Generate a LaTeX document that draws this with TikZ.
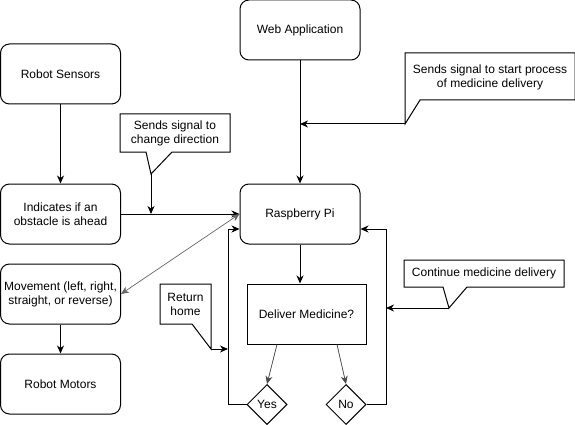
\documentclass[tikz,border=0pt]{standalone}
\usepackage{fontspec}
\setmainfont{Liberation Sans}
\usetikzlibrary{arrows.meta, shapes.geometric}
\tikzset{
	box/.style={draw, rounded corners=9pt, minimum width=120pt, minimum height=60pt, align=center},
	decision/.style={draw, diamond, minimum width=40pt, minimum height=40pt, inner sep=0pt},
	arrow/.style={-{Stealth[length=8pt, width=7pt, inset=2.5pt]}},
	greyarrow/.style={{Stealth[length=8pt, width=7pt, inset=2.5pt]}-{Stealth[length=8pt, width=7pt, inset=2.5pt]}, draw=black!60, line width=.7pt},
	thinarrow/.style={-{Stealth[length=8pt, width=7pt, inset=2.5pt]}, draw=black!70, line width=.7pt, fill=black},
	notebox/.style={draw, line join=miter}
}
\begin{document}
\begin{tikzpicture}[x=1pt, y=-1pt, line width=1pt, every node/.style={font=\fontsize{12}{14}\selectfont, align=center}]
	\useasboundingbox (0,0) rectangle (575,425);
	% left column
	\node[box] (sensors) at (60.5, 74) {Robot Sensors};
	\node[box] (obstacle) at (60.5, 214) {Indicates if an\\obstacle is ahead};
	\node[box] (movement) at (60.5, 294) {Movement (left, right,\\straight, or reverse)};
	\node[box] (motors) at (60.5, 384) {Robot Motors};
	% right column
	\node[box] (webapp) at (300, 30) {Web Application};
	\node[box] (raspi) at (300, 214) {Raspberry Pi};
	\node[draw, minimum width=119pt, minimum height=60pt] (deliver) at (306.5, 314) {Deliver Medicine?};
	\node[decision] (yes) at (267, 404.5) {Yes};
	\node[decision] (no) at (346, 404.5) {No};
	\coordinate (yesloop) at (228, 404.5);
	\coordinate (noloop) at (386, 404.5);
	% callouts
	\draw[notebox] (120,114) -- (230,114) -- (230,152) -- (172,152) -- (151,174) coordinate (dirtip) -- (146,152) -- (120,152) -- cycle;
	\node[] (dirText) at (175, 133.5) {Sends signal to\\change direction};
	\draw[notebox] (405,53) -- (575,53) -- (575,100) -- (420,100) -- (405,124) coordinate (starttip) -- cycle;
	\node[] (startText) at (490, 77.5) {Sends signal to start process\\of medicine delivery};
	\draw[notebox] (160,284) -- (211,284) -- (211,349) coordinate (hometip) -- (192,324) -- (160,324) -- cycle;
	\node[] (homeText) at (185.5, 304.5) {Return\\home};
	\draw[notebox] (404,260) -- (564,260) -- (564,287) -- (467,287) -- (449,308) coordinate (conttip) -- (443,287) -- (404,287) -- cycle;
	\node[] (contText) at (484, 273.5) {Continue medicine delivery};
	% connectors
	\draw[arrow] (sensors) -- (obstacle);
	\draw[arrow] (obstacle) -- (raspi);
	\draw[arrow] (movement) -- (motors);
	\draw[arrow] (webapp) -- (raspi);
	\draw[arrow] (raspi.south) -- (raspi.south |- deliver.north);
	\draw[greyarrow] (raspi.west) -- (movement.east);
	\draw[thinarrow] ([xshift=-29.5pt]deliver.south) -- (yes.north);
	\draw[thinarrow] ([xshift=30.5pt]deliver.south) -- (no.north);
	\draw[arrow] (yes.west) -- (yesloop) |- ([yshift=-15pt]raspi.west);
	\draw[arrow] (no.east) -- (noloop) |- ([yshift=-15pt]raspi.east);
	\draw[arrow] (dirtip) -- (dirtip |- obstacle.east);
	\draw[arrow] (starttip) -- (starttip -| webapp.south);
	\draw[arrow] (hometip) -- (hometip -| yesloop);
	\draw[arrow] (conttip) -- (conttip -| noloop);
\end{tikzpicture}
\end{document}
